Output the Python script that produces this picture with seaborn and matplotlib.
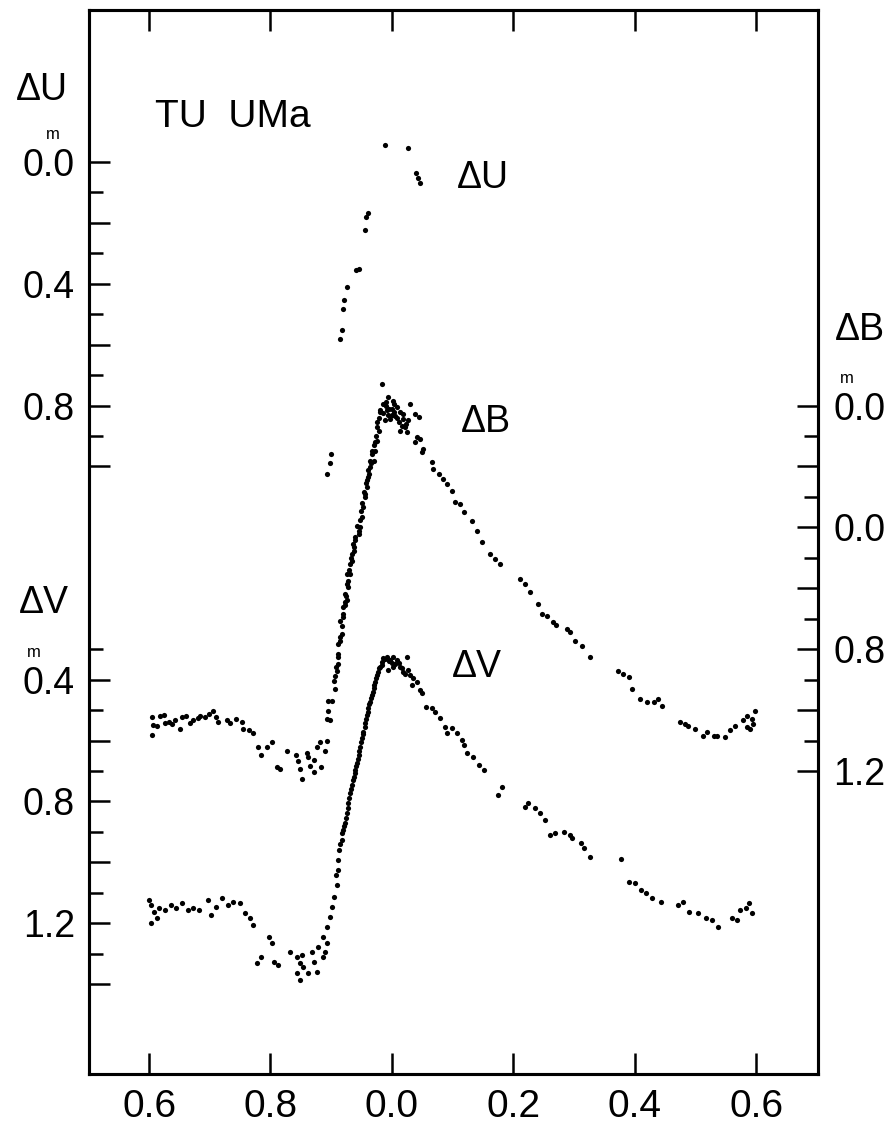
import matplotlib
matplotlib.use("Agg")
import matplotlib.pyplot as plt
import seaborn as sns
import pandas as pd
from matplotlib.transforms import blended_transform_factory, offset_copy

# ---------------- data (phase continuous 0.6 .. 1.6, 1.0 == phase 0.0) ----------------
u_phase = [0.989, 1.027, 1.040, 1.043, 1.046, 0.961, 0.957, 0.956, 0.946, 0.941,
           0.926, 0.921, 0.920, 0.918, 0.915, 0.900, 0.898, 0.893]
u_mag = [-0.056, -0.046, 0.036, 0.053, 0.069, 0.167, 0.181, 0.223, 0.351, 0.355,
         0.411, 0.453, 0.483, 0.552, 0.581, 0.959, 0.989, 1.025]

b_phase = [0.604, 0.604, 0.606, 0.613, 0.618, 0.624, 0.626, 0.632, 0.637, 0.643,
           0.651, 0.654, 0.661, 0.668, 0.673, 0.681, 0.684, 0.692, 0.698, 0.706,
           0.711, 0.714, 0.728, 0.733, 0.744, 0.753, 0.755, 0.764, 0.772, 0.780,
           0.785, 0.794, 0.802, 0.810, 0.816, 0.828, 0.842, 0.846, 0.849, 0.852,
           0.860, 0.862, 0.865, 0.871, 0.871, 0.876, 0.882, 0.883, 0.890, 0.893,
           0.893, 0.895, 0.895, 0.898, 0.901,
           0.906, 0.906, 0.909, 0.912, 0.912, 0.912, 0.914, 0.917, 0.914, 0.920,
           0.923, 0.920, 0.926, 0.923, 0.926, 0.928, 0.926, 0.931, 0.931, 0.934,
           0.934, 0.937, 0.937, 0.939, 0.945, 0.945, 0.947, 0.950, 0.953, 0.956,
           0.956, 0.959, 0.959, 0.961, 0.961, 0.964, 0.964, 0.967, 0.970, 0.972,
           0.972, 0.975, 0.978, 0.975, 0.980,
           0.904, 0.908, 0.911, 0.915, 0.917, 0.919, 0.922, 0.925, 0.928, 0.930,
           0.933, 0.936, 0.940, 0.943, 0.947, 0.949, 0.951, 0.954, 0.957, 0.962,
           0.965, 0.968, 0.970, 0.973, 0.976, 0.978, 0.981,
           0.986, 0.983, 0.994, 1.002, 0.992, 1.000, 1.008, 1.013, 1.019, 1.005,
           0.997, 0.989, 1.011, 1.016, 1.022, 1.025, 1.013, 1.027, 1.030, 1.038,
           1.044, 0.990, 0.996, 1.003, 1.008, 1.000, 0.994, 1.019, 1.024, 0.985,
           0.990, 1.003,
           1.041, 1.046, 1.038, 1.052, 1.049, 1.066, 1.068, 1.077, 1.085, 1.090,
           1.099, 1.104, 1.112, 1.118, 1.132, 1.140, 1.148, 1.162, 1.170, 1.178,
           1.211, 1.219, 1.228, 1.241, 1.247, 1.255, 1.266, 1.271, 1.288, 1.294,
           1.302, 1.313, 1.327, 1.373, 1.381, 1.390, 1.395, 1.409, 1.420, 1.431,
           1.439, 1.445, 1.475, 1.483, 1.488, 1.500, 1.513, 1.519, 1.530, 1.535,
           1.549, 1.557, 1.565, 1.579, 1.585, 1.590, 1.595, 1.598, 1.593, 1.585]
b_mag = [1.024, 1.081, 1.049, 1.051, 1.021, 1.015, 1.043, 1.040, 1.045, 1.032,
         1.062, 1.024, 1.018, 1.043, 1.032, 1.026, 1.018, 1.024, 1.012, 1.004,
         1.024, 1.040, 1.032, 1.043, 1.029, 1.040, 1.062, 1.067, 1.076, 1.122,
         1.149, 1.122, 1.106, 1.186, 1.193, 1.135, 1.146, 1.166, 1.193, 1.226,
         1.142, 1.155, 1.182, 1.164, 1.204, 1.122, 1.106, 1.186, 1.133, 1.100,
         1.029, 0.969, 1.002, 1.034, 0.969,
         0.930, 0.887, 0.870, 0.848, 0.827, 0.783, 0.772, 0.750, 0.706, 0.684,
         0.646, 0.662, 0.640, 0.618, 0.586, 0.597, 0.553, 0.553, 0.520, 0.509,
         0.487, 0.476, 0.465, 0.443, 0.421, 0.411, 0.400, 0.367, 0.334, 0.301,
         0.290, 0.268, 0.246, 0.235, 0.213, 0.203, 0.181, 0.148, 0.181, 0.148,
         0.121, 0.115, 0.082, 0.055, 0.016,
         0.905, 0.860, 0.815, 0.760, 0.725, 0.695, 0.655, 0.625, 0.575, 0.540,
         0.500, 0.455, 0.430, 0.395, 0.375, 0.345, 0.320, 0.285, 0.255, 0.225,
         0.190, 0.160, 0.130, 0.100, 0.070, 0.040, 0.020,
         -0.006, -0.071, -0.027, -0.016, 0.016, 0.011, 0.006, 0.022, 0.027, 0.033,
         0.044, 0.049, 0.055, 0.066, 0.071, 0.088, 0.082, 0.049, -0.006, 0.027,
         0.038, 0.000, 0.010, 0.020, 0.040, 0.030, 0.030, 0.045, 0.060, 0.025,
         -0.012, -0.005,
         0.104, 0.109, 0.121, 0.142, 0.153, 0.186, 0.208, 0.225, 0.241, 0.257,
         0.279, 0.318, 0.323, 0.350, 0.378, 0.411, 0.449, 0.487, 0.504, 0.520,
         0.569, 0.586, 0.613, 0.651, 0.684, 0.690, 0.712, 0.722, 0.733, 0.744,
         0.772, 0.788, 0.824, 0.870, 0.881, 0.892, 0.930, 0.963, 0.974, 0.974,
         0.963, 0.985, 1.040, 1.045, 1.051, 1.062, 1.084, 1.073, 1.084, 1.084,
         1.089, 1.067, 1.051, 1.034, 1.018, 1.062, 1.045, 1.002, 1.029, 1.056]

v_phase = [0.600, 0.603, 0.603, 0.608, 0.613, 0.617, 0.627, 0.636, 0.645, 0.655,
           0.664, 0.673, 0.683, 0.697, 0.702, 0.711, 0.720, 0.730, 0.739, 0.749,
           0.758, 0.767, 0.772,
           0.797, 0.802, 0.785, 0.777, 0.805, 0.813, 0.832, 0.843, 0.852, 0.849,
           0.854, 0.843, 0.849, 0.862, 0.871, 0.868, 0.876, 0.879, 0.887, 0.890,
           0.893, 0.887, 0.893, 0.898, 0.901, 0.904, 0.909, 0.908, 0.912, 0.912,
           0.913, 0.917, 0.920, 0.923, 0.926, 0.928, 0.931,
           0.934, 0.937, 0.939, 0.942, 0.945, 0.947, 0.950, 0.953, 0.956, 0.959,
           0.961, 0.964, 0.967, 0.970, 0.972, 0.975, 0.978, 0.983, 0.986, 0.992,
           0.997, 1.002, 1.008, 1.011, 1.025, 0.994, 1.002, 1.013, 1.019, 1.027,
           1.030, 1.035, 1.041, 1.033, 1.046, 1.049, 1.057, 1.066, 1.071, 1.079,
           1.088, 1.090,
           0.915, 0.918, 0.921, 0.924, 0.927, 0.930, 0.933, 0.936, 0.939, 0.941,
           0.944, 0.946, 0.949, 0.952, 0.955, 0.958, 0.960, 0.963, 0.966, 0.969,
           0.971, 0.974, 0.977, 0.980, 0.984, 0.989, 0.995, 1.000, 1.005, 1.016,
           1.022,
           1.099, 1.107, 1.115, 1.118, 1.123, 1.134, 1.143, 1.151, 1.175, 1.181,
           1.219, 1.225, 1.236, 1.244, 1.252,
           1.260, 1.269, 1.283, 1.293, 1.297, 1.312, 1.316, 1.326, 1.377, 1.391,
           1.401, 1.410, 1.419, 1.429, 1.443, 1.471, 1.480, 1.490, 1.504, 1.518,
           1.527, 1.537, 1.560, 1.569, 1.574, 1.584, 1.588, 1.594]
v_mag = [1.123, 1.140, 1.200, 1.162, 1.184, 1.151, 1.156, 1.140, 1.151, 1.134,
         1.156, 1.151, 1.156, 1.123, 1.173, 1.145, 1.118, 1.140, 1.129, 1.134,
         1.167, 1.184, 1.206,
         1.244, 1.266, 1.310, 1.331, 1.326, 1.337, 1.293, 1.310, 1.304, 1.331,
         1.343, 1.364, 1.386, 1.364, 1.326, 1.293, 1.359, 1.277, 1.310, 1.293,
         1.266, 1.244, 1.211, 1.178, 1.145, 1.113, 1.074, 1.041, 1.025, 0.992,
         0.959, 0.926, 0.894, 0.872, 0.839, 0.806, 0.773,
         0.746, 0.719, 0.697, 0.675, 0.647, 0.620, 0.592, 0.571, 0.543, 0.516,
         0.494, 0.472, 0.450, 0.428, 0.407, 0.385, 0.363, 0.352, 0.330, 0.324,
         0.335, 0.324, 0.335, 0.346, 0.324, 0.368, 0.357, 0.357, 0.374, 0.368,
         0.385, 0.395, 0.407, 0.417, 0.434, 0.445, 0.489, 0.494, 0.505, 0.527,
         0.554, 0.576,
         0.940, 0.905, 0.880, 0.855, 0.820, 0.790, 0.760, 0.730, 0.705, 0.685,
         0.660, 0.635, 0.605, 0.580, 0.555, 0.530, 0.505, 0.480, 0.460, 0.440,
         0.418, 0.395, 0.375, 0.358, 0.342, 0.333, 0.340, 0.345, 0.350, 0.362,
         0.380,
         0.560, 0.576, 0.598, 0.614, 0.642, 0.653, 0.680, 0.697, 0.779, 0.751,
         0.817, 0.806, 0.822, 0.839, 0.861,
         0.910, 0.904, 0.899, 0.910, 0.921, 0.937, 0.954, 0.981, 0.990, 1.063,
         1.069, 1.091, 1.101, 1.118, 1.129, 1.140, 1.129, 1.162, 1.167, 1.184,
         1.189, 1.213, 1.184, 1.189, 1.156, 1.151, 1.134, 1.167]

x_ticks = [0.6, 0.8, 1.0, 1.2, 1.4, 1.6]
x_labels = ["0.6", "0.8", "0.0", "0.2", "0.4", "0.6"]

# offsets that stack the three bands on one magnitude scale (in ΔU units)
U_OFF, B_OFF, V_OFF = 0.0, 0.8, 1.3

left_major = [0.0, 0.2, 0.4, 0.6, 0.8, 1.0, 1.7, 1.9, 2.1, 2.3, 2.5, 2.7]
left_minor = [0.1, 0.3, 0.5, 0.7, 0.9, 1.6, 1.8, 2.0, 2.2, 2.4, 2.6]
left_labels = ["0.0", "", "0.4", "", "0.8", "", "0.4", "", "0.8", "", "1.2", ""]
right_major = [0.8, 1.0, 1.2, 1.4, 1.6, 1.8, 2.0]
right_minor = [0.9, 1.1, 1.3, 1.5, 1.7, 1.9]
right_labels = ["0.0", "", "0.0", "", "0.8", "", "1.2"]

# ---------------- figure ----------------
sns.set_style("ticks")
plt.rcParams["font.family"] = ["Liberation Sans", "DejaVu Sans"]
for key in ["text.color", "axes.edgecolor", "xtick.color", "ytick.color",
            "axes.labelcolor"]:
    plt.rcParams[key] = "black"
FS = 27

df = pd.concat([
    pd.DataFrame({"phase": u_phase, "y": [m + U_OFF for m in u_mag], "band": "U"}),
    pd.DataFrame({"phase": b_phase, "y": [m + B_OFF for m in b_mag], "band": "B"}),
    pd.DataFrame({"phase": v_phase, "y": [m + V_OFF for m in v_mag], "band": "V"}),
], ignore_index=True)

fig = plt.figure(figsize=(8.93, 11.33), dpi=100)
ax = fig.add_axes([89 / 893, 59 / 1133, 729 / 893, 1064 / 1133])
sns.scatterplot(data=df, x="phase", y="y", color="black", s=14, linewidth=0,
                legend=False, ax=ax)
ax.set_xlim(0.501, 1.702)
ax.set_ylim(2.995, -0.499)
ax.set_xlabel("")
ax.set_ylabel("")

for sp in ax.spines.values():
    sp.set_linewidth(2.2)
    sp.set_visible(True)
    sp.set_color("black")

ax.set_xticks(x_ticks)
ax.set_xticklabels(x_labels, fontsize=FS + 1)
ax.tick_params(axis="x", which="major", direction="in", length=15, width=1.8,
               top=True, bottom=True, labeltop=False, pad=11)

ax.set_yticks(left_major)
ax.set_yticks(left_minor, minor=True)
ax.set_yticklabels(left_labels, fontsize=FS)
ax.tick_params(axis="y", which="major", direction="in", length=15, width=1.8,
               left=True, right=False, pad=10)
ax.tick_params(axis="y", which="minor", direction="in", length=10, width=1.8,
               left=True, right=False)

ax2 = ax.twinx()
ax2.set_ylim(ax.get_ylim())
ax2.set_yticks(right_major)
ax2.set_yticks(right_minor, minor=True)
ax2.set_yticklabels(right_labels, fontsize=FS)
ax2.tick_params(axis="y", which="major", direction="in", length=15, width=1.8,
                right=True, left=False, pad=11)
ax2.tick_params(axis="y", which="minor", direction="in", length=10, width=1.8,
                right=True, left=False)
for sp in ax2.spines.values():
    sp.set_linewidth(2.2)
    sp.set_color("black")

# superscript "m" over the decimal points
tr = blended_transform_factory(ax.transAxes, ax.transData)
up = offset_copy(tr, fig=fig, x=0, y=27, units="dots")
for xa, yv in [(-0.050, 0.0), (-0.075, 1.7), (1.040, 0.8)]:
    ax.text(xa, yv, "m", transform=up, ha="center", va="center", fontsize=12,
            clip_on=False)

# band labels
ax.text(-0.064, -0.236, "ΔU", transform=tr, ha="center", va="center",
        fontsize=FS, clip_on=False)
ax.text(-0.062, 1.448, "ΔV", transform=tr, ha="center", va="center",
        fontsize=FS, clip_on=False)
ax.text(1.058, 0.553, "ΔB", transform=tr, ha="center", va="center",
        fontsize=FS, clip_on=False)
ax.text(0.738, -0.148, "TU  UMa", ha="center", va="center", fontsize=FS + 1)
ax.text(1.150, 0.053, "ΔU", ha="center", va="center", fontsize=FS)
ax.text(1.155, 0.854, "ΔB", ha="center", va="center", fontsize=FS)
ax.text(1.140, 1.658, "ΔV", ha="center", va="center", fontsize=FS)

fig.savefig("out.png", dpi=100)
